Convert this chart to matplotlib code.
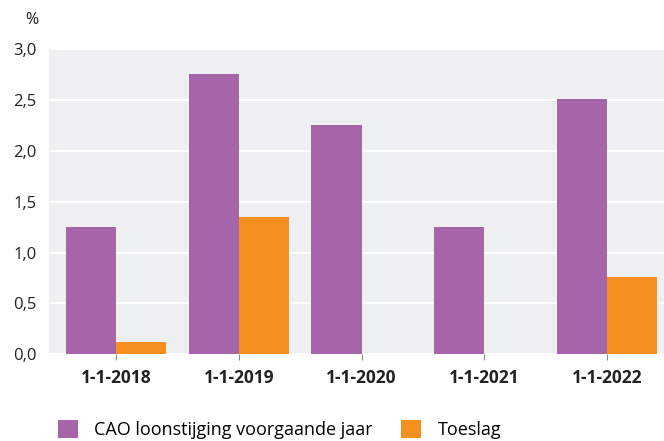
import matplotlib.pyplot as plt
import numpy as np

plt.rcParams['font.family'] = ['Open Sans', 'DejaVu Sans']

# data
datums = ['1-1-2018', '1-1-2019', '1-1-2020', '1-1-2021', '1-1-2022']
cao = [1.25, 2.76, 2.26, 1.25, 2.51]
toeslag = [0.12, 1.35, 0.0, 0.0, 0.76]
paars = '#a665a8'
oranje = '#f58f1f'

fig = plt.figure(figsize=(6.64, 4.41), dpi=100)
ax = fig.add_axes([0.074, 0.197, 0.926, 0.691])
ax.set_facecolor('#eeeff1')

x = np.arange(len(datums))
w = 0.41
ax.bar(x - w / 2, cao, w, color=paars, label='CAO loonstijging voorgaande jaar', zorder=3)
ax.bar(x + w / 2, toeslag, w, color=oranje, label='Toeslag', zorder=3)

ax.set_ylim(0, 3.0)
ax.set_xlim(-0.546, 4.465)
ax.set_yticks(np.arange(0, 3.01, 0.5))
ax.set_yticklabels([f'{v:.1f}'.replace('.', ',') for v in np.arange(0, 3.01, 0.5)])
ax.yaxis.grid(True, color='white', linewidth=1.5, zorder=1)
ax.set_axisbelow(True)
ax.set_xticks(x)
ax.set_xticklabels(datums, fontweight='bold')
ax.tick_params(axis='y', length=0, labelsize=12, colors='#222222', pad=9)
ax.tick_params(axis='x', length=4, color='#888888', labelsize=12.5, labelcolor='#222222', pad=7)
for s in ax.spines.values():
    s.set_visible(False)

fig.text(0.048, 0.955, '%', fontsize=11.5, color='#222222', ha='center', va='center')

fig.legend(loc='lower left', bbox_to_anchor=(0.076, -0.012), ncol=2, frameon=False,
           fontsize=13, handlelength=1.1, handleheight=1.1, columnspacing=1.6,
           handletextpad=0.9, borderaxespad=0)

fig.savefig('out.png', dpi=100)
